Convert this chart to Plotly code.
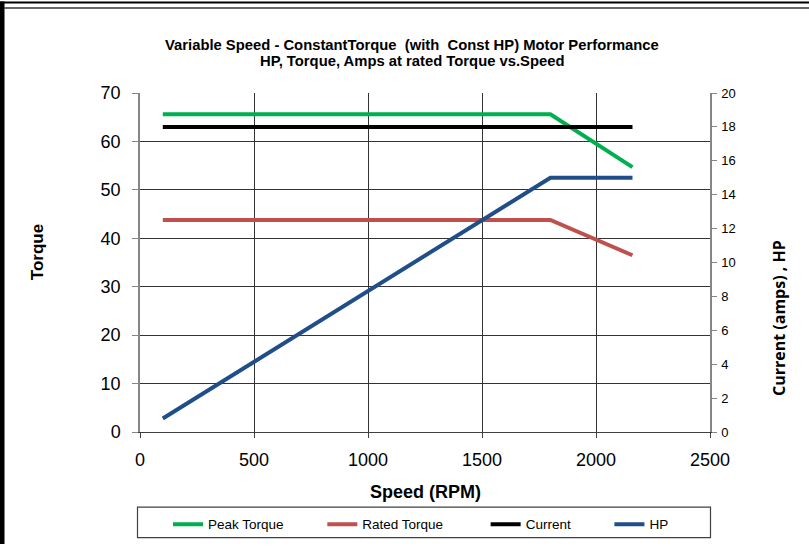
import plotly.graph_objects as go

# ---- data ----
speed_rpm = [100, 1800, 2160]
peak_torque = [65.6, 65.6, 54.7]
rated_torque = [43.8, 43.8, 36.5]
current_amps = [18.0, 18.0, 18.0]
hp = [0.8, 15.0, 15.0]

series_names = ["Peak Torque", "Rated Torque", "Current", "HP"]
series_colors = ["#00B050", "#C0504D", "#000000", "#1F4E89"]

x_ticks = [0, 500, 1000, 1500, 2000, 2500]
title_lines = ["Variable Speed - ConstantTorque\u00a0 (with\u00a0 Const HP) Motor Performance",
               "HP, Torque, Amps at rated Torque vs.Speed"]

W, H = 809, 552
L, R, T, B = 140, 710, 93, 438   # plot area in pixels


def px(x):
    return (x - L) / (R - L)


def py(y):
    return (B - y) / (B - T)


FONT = "Liberation Sans, Arial, sans-serif"
pads = [9, 10, 9, 0]

fig = go.Figure()
ys = [peak_torque, rated_torque, current_amps, hp]
axes = ["y", "y", "y2", "y2"]
for name, col, yv, ax, p in zip(series_names, series_colors, ys, axes, pads):
    fig.add_trace(go.Scatter(
        x=speed_rpm, y=yv, mode="lines", name=name + "\u00a0" * p,
        line=dict(color=col, width=4), yaxis=ax,
    ))

title_font = dict(family=FONT, size=14.8, weight="bold", color="#000000")

fig.update_layout(
    width=W, height=H, autosize=False,
    margin=dict(l=L, r=W - R, t=T, b=H - B, pad=0),
    paper_bgcolor="white", plot_bgcolor="white",
    font=dict(family=FONT, color="#000000"),
    xaxis=dict(range=[0, 2500], tickvals=x_ticks, showgrid=True, gridcolor="#333333", gridwidth=1,
               zeroline=False, showline=True, linecolor="#404040", linewidth=1,
               ticks="outside", ticklen=5, tickcolor="#404040",
               tickfont=dict(family=FONT, size=18), ticklabelstandoff=6),
    yaxis=dict(range=[0, 70], dtick=10, showgrid=True, gridcolor="#333333", gridwidth=1,
               zeroline=False, showline=True, linecolor="#868686", linewidth=1.5,
               ticks="outside", ticklen=6, tickcolor="#868686",
               tickfont=dict(family=FONT, size=18), ticklabelstandoff=8),
    yaxis2=dict(range=[0, 20], dtick=2, overlaying="y", side="right", showgrid=False,
                zeroline=False, showline=True, linecolor="#868686", linewidth=1.5,
                ticks="outside", ticklen=5, tickcolor="#868686",
                tickfont=dict(family=FONT, size=13), ticklabelstandoff=2),
    showlegend=True,
    legend=dict(orientation="h", x=px(168), xanchor="left", y=py(532), yanchor="middle",
                bgcolor="rgba(0,0,0,0)", borderwidth=0,
                font=dict(family=FONT, size=13.5, color="#000000"), traceorder="normal"),
)

# two-line chart title
for line, yc in zip(title_lines, [44, 60]):
    fig.add_annotation(text=line, x=px(412), y=py(yc), xref="paper", yref="paper",
                       showarrow=False, xanchor="center", yanchor="middle", font=title_font)

fig.add_annotation(text="Torque", x=px(37), y=py(255), xref="paper", yref="paper",
                   textangle=-90, showarrow=False, xanchor="center", yanchor="middle",
                   font=dict(family=FONT, size=17, weight="bold"))
fig.add_annotation(text="Current (amps) , HP", x=px(779), y=py(322), xref="paper", yref="paper",
                   textangle=-90, showarrow=False, xanchor="center", yanchor="middle",
                   font=dict(family="Open Sans, sans-serif", size=16, weight="bold"))
fig.add_annotation(text="Speed (RPM)", x=px(425), y=py(499), xref="paper", yref="paper",
                   showarrow=False, xanchor="center", yanchor="middle",
                   font=dict(family=FONT, size=18, weight="bold"))

# legend frame
fig.add_shape(type="rect", xref="paper", yref="paper", x0=px(137.5), x1=px(710.5),
              y0=py(545.5), y1=py(514.5), line=dict(color="#404040", width=1.2),
              fillcolor="rgba(0,0,0,0)")
# page edge artifacts
fig.add_shape(type="rect", xref="paper", yref="paper", x0=px(0), x1=px(4.5), y0=py(H), y1=py(0),
              line=dict(width=0), fillcolor="#000000")
fig.add_shape(type="line", xref="paper", yref="paper", x0=px(0), x1=px(W), y0=py(1), y1=py(1),
              line=dict(color="#000000", width=2))
fig.add_shape(type="line", xref="paper", yref="paper", x0=px(4), x1=px(W), y0=py(6.5), y1=py(6.5),
              line=dict(color="#333333", width=1.5))

fig.write_html("out.html", config={"displayModeBar": False},
               post_script="document.body.style.margin='0';document.body.style.padding='0';")
